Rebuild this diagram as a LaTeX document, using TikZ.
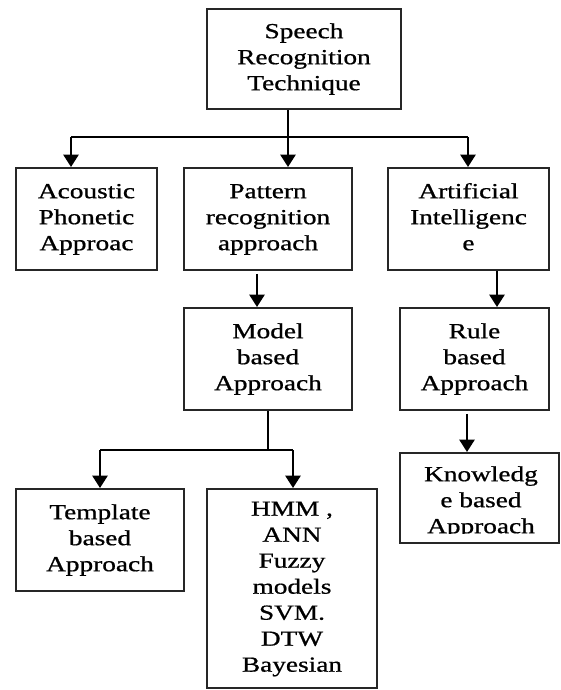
\documentclass[tikz,border=0pt]{standalone}
\usepackage{fontspec}
\usepackage{graphicx}
\setmainfont{Liberation Serif}[FakeBold=0.7]
\newcommand{\sxtext}[1]{\scalebox{1.27}[1]{\begin{tabular}{@{}c@{}}#1\end{tabular}}}
\usetikzlibrary{arrows.meta,calc}
\begin{document}
\begin{tikzpicture}[x=1pt,y=-1pt,
  box/.style={draw=black!85, line width=1.9pt, inner sep=0pt, align=center,
    font=\fontsize{21.5}{26}\selectfont},
  txt/.style={inner sep=0pt, align=center, font=\fontsize{21.5}{26}\selectfont},
  conn/.style={line width=2.9pt, black},
  arr/.style={conn, -{Triangle[width=15pt,length=12.5pt]}}]
\useasboundingbox (0,0) rectangle (560,690);
% boxes
\node[box, minimum width=194pt, minimum height=100pt] (top) at (304,59) {\sxtext{Speech\\Recognition\\Technique}};
\node[box, minimum width=141pt, minimum height=102pt] (aco) at (86.5,219) {\sxtext{Acoustic\\Phonetic\\Approac}};
\node[box, minimum width=168pt, minimum height=102pt] (pat) at (268,219) {\sxtext{Pattern\\recognition\\approach}};
\node[box, minimum width=161pt, minimum height=102pt] (ai) at (468.5,219) {\sxtext{Artificial\\Intelligenc\\e}};
\node[box, minimum width=168pt, minimum height=102pt] (mod) at (268,359) {\sxtext{Model\\based\\Approach}};
\node[box, minimum width=149pt, minimum height=102pt] (rule) at (474.5,359) {\sxtext{Rule\\based\\Approach}};
\node[box, minimum width=168pt, minimum height=102pt] (tem) at (100,540) {\sxtext{Template\\based\\Approach}};
\node[box, minimum width=170pt, minimum height=199pt] (hmm) at (292,588.5) {\sxtext{HMM ,\\ANN\\Fuzzy\\models\\SVM.\\DTW\\Bayesian}};
\node[box, minimum width=159pt, minimum height=90pt] (know) at (479.5,498) {};
\begin{scope}
\clip ($(know.north west)+(2,2)$) rectangle (558,533);
\node[txt] (knowtext) at (481,502) {\sxtext{Knowledg\\e based\\Approach}};
\end{scope}
% junctions
\coordinate (j1) at (288,137);
\coordinate (l1) at (71,137);
\coordinate (r1) at (468,137);
\coordinate (c1) at (257,0);
\coordinate (c2) at (497,0);
\coordinate (j2) at (268,450);
\coordinate (l2) at (100,450);
\coordinate (r2) at (293,450);
\coordinate (c3) at (467,0);
% connectors
\draw[conn] (top.south -| j1) -- (j1);
\draw[conn] (l1) -- (r1);
\draw[arr] (l1) -- (l1 |- aco.north);
\draw[arr] (j1) -- (j1 |- pat.north);
\draw[arr] (r1) -- (r1 |- ai.north);
\draw[arr] ($(pat.south -| c1)+(0,3)$) -- (mod.north -| c1);
\draw[arr] (ai.south -| c2) -- (rule.north -| c2);
\draw[conn] (mod.south -| j2) -- (j2);
\draw[conn] (l2) -- (r2);
\draw[arr] (l2) -- (l2 |- tem.north);
\draw[arr] (r2) -- (r2 |- hmm.north);
\draw[arr] ($(rule.south -| c3)+(0,3)$) -- (know.north -| c3);
\end{tikzpicture}
\end{document}
